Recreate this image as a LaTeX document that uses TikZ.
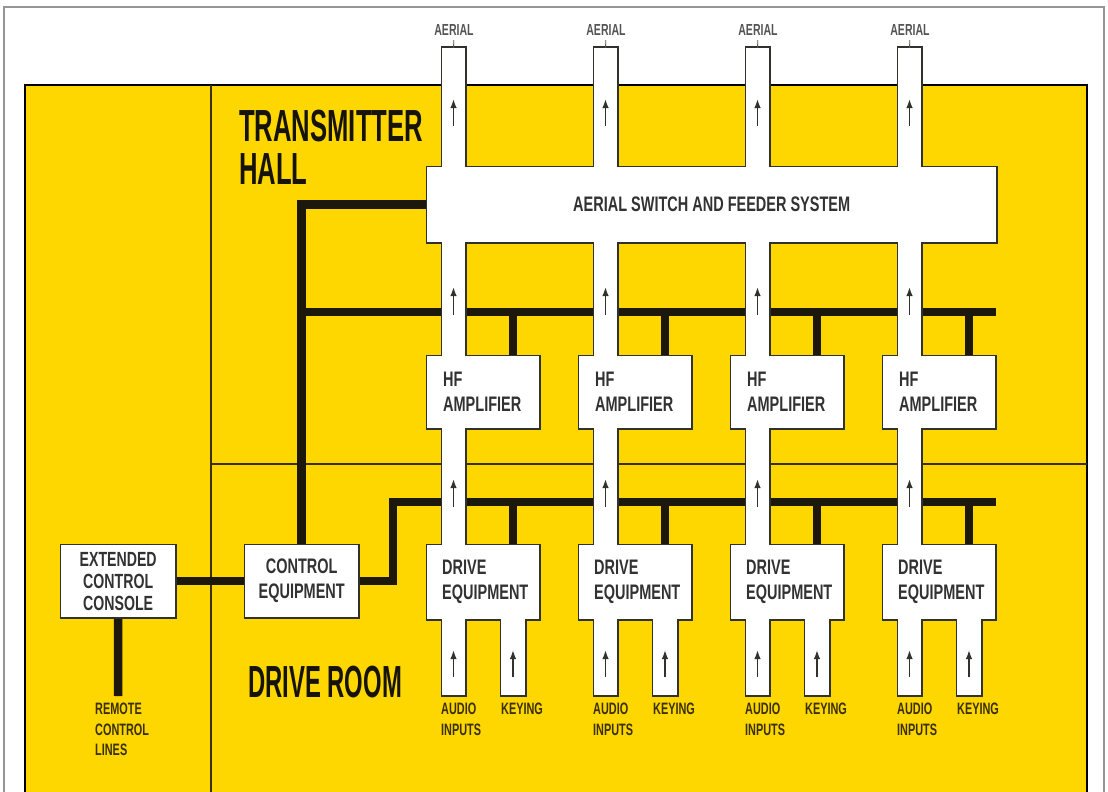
\documentclass[tikz,border=0pt]{standalone}
\usepackage{fontspec}
\setmainfont{Liberation Sans}
\newfontfamily\boxfont[FakeStretch=0.69]{Liberation Sans}
\newfontfamily\smallfont[FakeStretch=0.66]{Liberation Sans}
\newfontfamily\headfont[FakeStretch=0.57]{Liberation Sans}
\newfontfamily\roomfont[FakeStretch=0.53]{Liberation Sans}
\usetikzlibrary{arrows.meta}
\definecolor{yel}{RGB}{254,214,0}
\definecolor{busc}{RGB}{28,24,12}
\definecolor{roomc}{RGB}{58,48,0}
\definecolor{outc}{RGB}{50,50,45}
\definecolor{boxtext}{RGB}{50,50,50}
\definecolor{labc}{RGB}{58,48,5}
\definecolor{aerc}{RGB}{85,85,85}
\definecolor{headc}{RGB}{22,20,10}
\definecolor{framec}{RGB}{150,150,150}
\pgfdeclarelayer{bg}
\pgfdeclarelayer{buslayer}
\pgfdeclarelayer{outl}
\pgfdeclarelayer{wfill}
\pgfsetlayers{bg,buslayer,outl,wfill,main}
\tikzset{
  box/.style={fill=white, draw=none, inner sep=0pt, text=boxtext,
    font=\boxfont\bfseries\fontsize{21}{25}\selectfont},
  ampbox/.style={minimum width=112pt, minimum height=72pt, text width=80pt,
    inner xsep=16pt, align=left},
  ctlbox/.style={minimum height=72pt, align=center},
  outline/.style={draw=outc, line width=3pt},
  bus/.style={draw=busc, line width=8.5pt, line join=miter},
  room/.style={draw=roomc, line width=2pt},
  flow/.style={draw=outc, line width=1.7pt, -{Latex[length=9pt,width=6.5pt]}},
  lab/.style={font=\smallfont\bfseries\fontsize{16.5}{20.5}\selectfont, text=labc,
    inner sep=0pt, align=left},
  aerlab/.style={font=\smallfont\bfseries\fontsize{16}{20}\selectfont, text=aerc,
    inner sep=0pt},
  head/.style={font=\headfont\bfseries\fontsize{45}{40}\selectfont, text=headc,
    inner sep=0pt},
  tick/.style={draw=aerc, line width=0.8pt, shorten <=4pt}
}
\begin{document}
\begin{tikzpicture}[x=1pt,y=-1pt]
\useasboundingbox (0,0) rectangle (1108,792);
% background, rooms
\begin{pgfonlayer}{bg}
  \fill[white] (0,0) rectangle (1108,792);
  \draw[framec, line width=1.2pt] (4,792) -- (4,7) -- (1104,7) -- (1104,792);
  \fill[yel] (25,85) rectangle (1087,792);
  \draw[black, line width=2.5pt] (25,792) -- (25,85) -- (1087,85) -- (1087,792);
  \draw[room] (211,85) -- (211,792);
  \draw[room] (211,464) -- (1087,464);
\end{pgfonlayer}

% headings
\node[head, anchor=base west] (th) at (239,141) {TRANSMITTER};
\node[head, anchor=base west] (hall) at (239,184) {HALL};
\node[head, font=\roomfont\bfseries\fontsize{45}{40}\selectfont, anchor=base west] (dro) at (248,697) {DRIVE ROOM};

% boxes
\node[box, minimum width=569pt, minimum height=75pt, anchor=north west] (sw) at (427,167)
  {AERIAL SWITCH AND FEEDER SYSTEM};
\node[box, ctlbox, minimum width=113pt, anchor=north west] (ce) at (245,545)
  {CONTROL\\EQUIPMENT};
\node[box, ctlbox, minimum width=114pt, anchor=north west,
  font=\boxfont\bfseries\fontsize{20.5}{22}\selectfont] (ecc) at (61,545)
  {EXTENDED\\CONTROL\\CONSOLE};
\foreach \i in {0,1,2,3}{
  \node[box, ampbox, anchor=north west] (hf\i) at ({427+152*\i},356) {HF\\AMPLIFIER};
  \node[box, ampbox, minimum height=74pt, inner xsep=15pt, text width=82pt,
    anchor=north west] (dr\i) at ({427+152*\i},545) {DRIVE\\EQUIPMENT};
  \coordinate (aer\i) at ({453.5+152*\i},48);
  \coordinate (tie\i) at ({513+152*\i},356);
  \node[aerlab, anchor=base] (al\i) at ({454+152*\i},36) {AERIAL};
  \node[lab, anchor=north west] (ai\i) at ({441+152*\i},703) {AUDIO\\INPUTS};
  \node[lab, anchor=north west] (ky\i) at ({501+152*\i},703) {KEYING};
}
\node[lab, anchor=north west] (rcl) at (95,703) {REMOTE\\CONTROL\\LINES};

% outlines (union) and white fills
\begin{pgfonlayer}{outl}
  \foreach \n in {sw,ce,ecc,hf0,hf1,hf2,hf3,dr0,dr1,dr2,dr3}
    \draw[outline] (\n.north west) rectangle (\n.south east);
  \foreach \i in {0,1,2,3}{
    \pgfmathsetmacro\xa{442+152*\i}
    \pgfmathsetmacro\xk{501+152*\i}
    \draw[outline] (\xa,48) rectangle ({\xa+23},545);
    \draw[outline] (\xa,619) rectangle ({\xa+23},695);
    \draw[outline] (\xk,619) rectangle ({\xk+24},695);
  }
\end{pgfonlayer}
\begin{pgfonlayer}{wfill}
  \foreach \i in {0,1,2,3}{
    \pgfmathsetmacro\xa{442+152*\i}
    \pgfmathsetmacro\xk{501+152*\i}
    \fill[white] (\xa,48) rectangle ({\xa+23},545);
    \fill[white] (\xa,619) rectangle ({\xa+23},695);
    \fill[white] (\xk,619) rectangle ({\xk+24},695);
  }
\end{pgfonlayer}

% buses
\begin{pgfonlayer}{buslayer}
  \draw[bus] (sw.west) -| (ce.north);
  \coordinate (busU) at (301.5,312);
  \draw[bus] (busU) -- (busU -| sw.east);
  \coordinate (busD) at (393,502);
  \draw[bus] (ce.east) -| (busD) -- (busD -| sw.east);
  \draw[bus] (ecc.east) -- (ce.west);
  \coordinate (rclend) at (118,696);
  \draw[bus] (ecc.south) -- (rclend);
  \foreach \i in {0,1,2,3}{
    \draw[bus] (tie\i |- busU) -- (tie\i);
    \draw[bus] (tie\i |- busD) -- (tie\i |- dr\i.north);
  }
\end{pgfonlayer}

% flow arrows and aerial ticks
\foreach \i in {0,1,2,3}{
  \pgfmathsetmacro\xc{453.5+152*\i}
  \pgfmathsetmacro\xkc{513+152*\i}
  \draw[flow] (\xc,126) -- (\xc,99);
  \draw[flow] (\xc,315) -- (\xc,287);
  \draw[flow] (\xc,507) -- (\xc,479);
  \draw[flow] (\xc,677) -- (\xc,650);
  \draw[flow] (\xkc,677) -- (\xkc,650);
  \draw[tick] (al\i.south) -- (aer\i);
}
\end{tikzpicture}
\end{document}
